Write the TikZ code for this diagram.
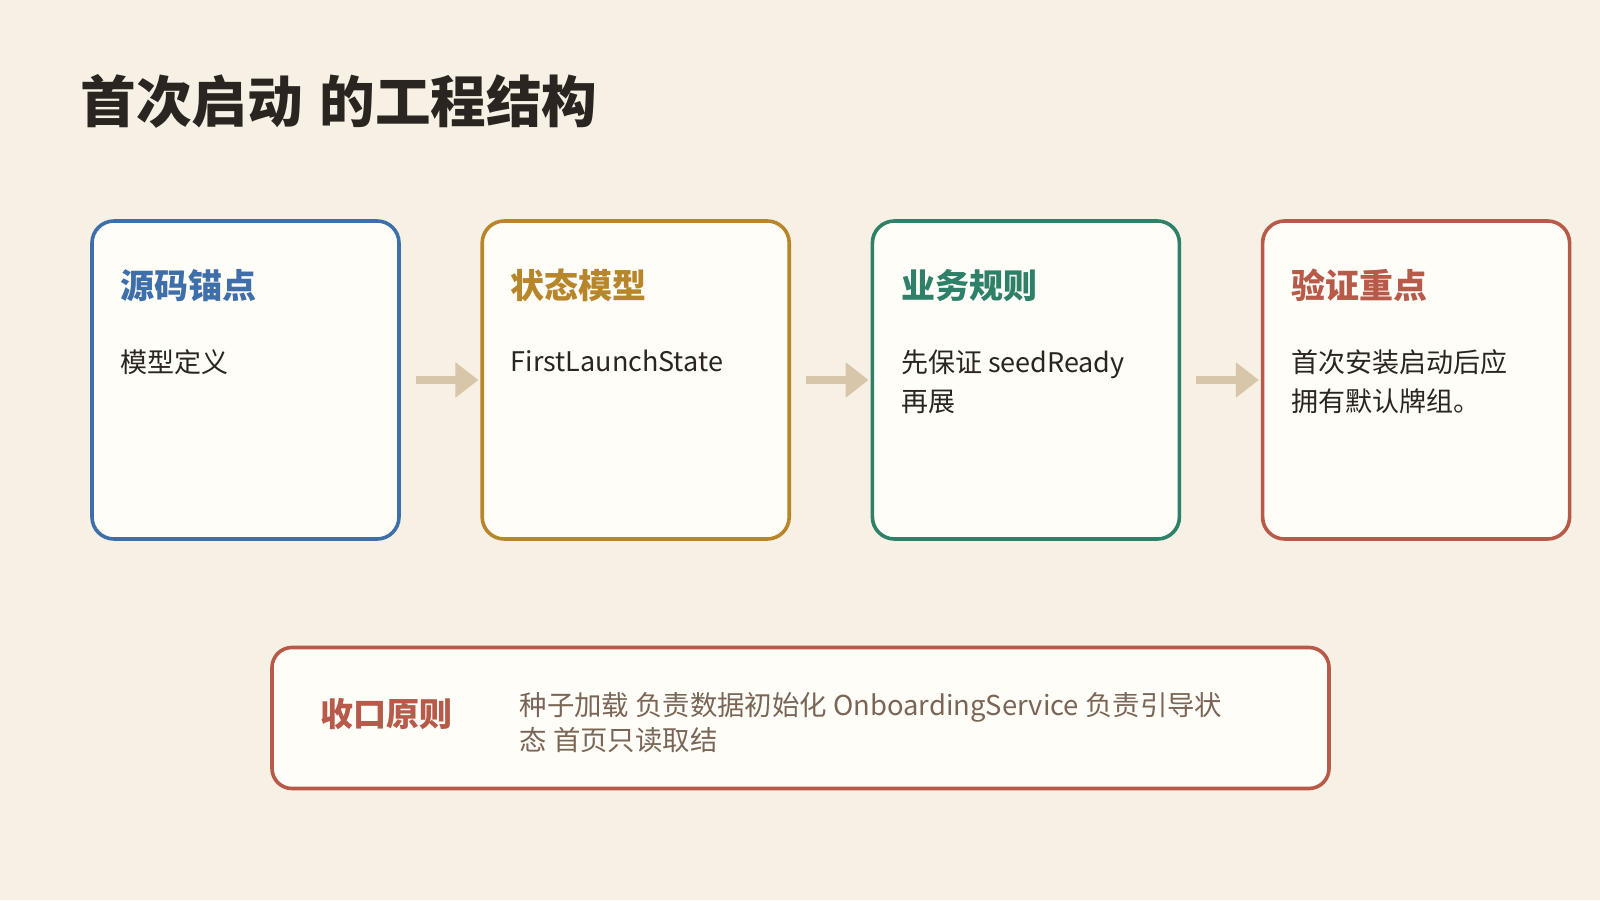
\documentclass[tikz,border=0pt]{standalone}
\usepackage{fontspec}
\setmainfont{Noto Sans CJK SC}
\usetikzlibrary{arrows.meta,positioning}
\definecolor{bgcol}{HTML}{F7F0E4}
\definecolor{cardfill}{HTML}{FFFDF8}
\definecolor{inkdark}{HTML}{2A2520}
\definecolor{inksoft}{HTML}{7A6656}
\definecolor{arrowcol}{HTML}{D8C6AA}
\definecolor{cblue}{HTML}{3F6FAA}
\definecolor{cgold}{HTML}{B8862A}
\definecolor{cgreen}{HTML}{2E8068}
\definecolor{cred}{HTML}{B85A4A}
\begin{document}
\begin{tikzpicture}[x=0.5pt, y=0.5pt, line join=round, node distance=39.8pt,
	card/.style={draw=#1, fill=cardfill, line width=1.8pt, rounded corners=11pt, minimum width=153.5pt, minimum height=159pt, inner sep=0pt},
	cardtitle/.style={text=#1, font=\fontsize{17}{20}\selectfont\bfseries, inner sep=0pt, anchor=west},
	cardtext/.style={text=inkdark, font=\fontsize{13.5}{19.5}\selectfont, align=left, inner sep=0pt, anchor=north west},
	flow/.style={draw=arrowcol, line width=4pt, line cap=butt, -{Triangle[length=11.5pt,width=17pt]}}]
	% fond et titre
	\fill[bgcol] (0,0) rectangle (1600,900);
	\useasboundingbox (0,0) rectangle (1600,900);
	\node[anchor=west, inner sep=0pt, text=inkdark, font=\fontsize{27.8}{30}\selectfont\bfseries] (title) at (80,799) {首次启动\hspace{0.3em}的工程结构};
	% les quatre cartes
	\node[card=cblue] (b1) at (245.5,520) {};
	\node[card=cgold, right=of b1] (b2) {};
	\node[card=cgreen, right=of b2] (b3) {};
	\node[card=cred, right=of b3] (b4) {};
	\node[cardtitle=cblue] (t1) at ([xshift=15pt,yshift=-33pt]b1.north west) {源码锚点};
	\node[cardtitle=cgold] (t2) at ([xshift=15pt,yshift=-33pt]b2.north west) {状态模型};
	\node[cardtitle=cgreen] (t3) at ([xshift=15pt,yshift=-33pt]b3.north west) {业务规则};
	\node[cardtitle=cred] (t4) at ([xshift=15pt,yshift=-33pt]b4.north west) {验证重点};
	\node[cardtext] (d1) at ([xshift=15pt,yshift=-65pt]b1.north west) {模型定义};
	\node[cardtext] (d2) at ([xshift=15pt,yshift=-65pt]b2.north west) {FirstLaunchState};
	\node[cardtext] (d3) at ([xshift=15pt,yshift=-65pt]b3.north west) {先保证 seedReady\\再展};
	\node[cardtext] (d4) at ([xshift=15pt,yshift=-65pt]b4.north west) {首次安装启动后应\\拥有默认牌组。};
	\foreach \u/\v in {b1/b2,b2/b3,b3/b4}
		\draw[flow] ([xshift=7.5pt]\u.east) -- ([xshift=-1pt]\v.west);
	% bandeau du bas
	\node[card=cred, rounded corners=10pt, minimum width=528.5pt, minimum height=70.5pt] (bx) at (800.5,182) {};
	\node[cardtitle=cred, font=\fontsize{16.5}{20}\selectfont\bfseries] (bt) at ([xshift=25pt,yshift=2pt]bx.west) {收口原则};
	\node[cardtext, text=inksoft, font=\fontsize{13.7}{17.5}\selectfont] (bd) at ([xshift=124.5pt,yshift=-23pt]bx.north west) {种子加载 负责数据初始化 OnboardingService 负责引导状\\态 首页只读取结};
\end{tikzpicture}
\end{document}
